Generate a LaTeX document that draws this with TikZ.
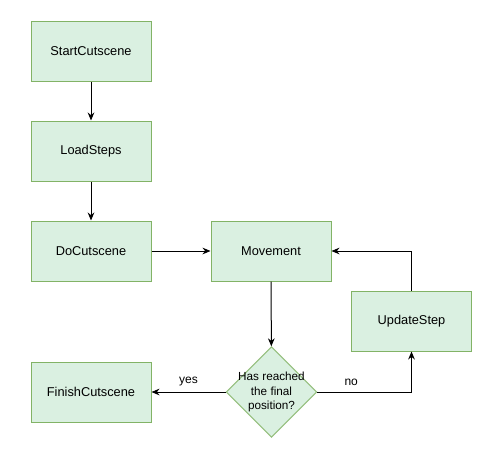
\documentclass[tikz,border=0pt]{standalone}
\usepackage{fontspec}
\setmainfont{Liberation Sans}
\definecolor{stepfill}{RGB}{218,240,225}
\definecolor{stepline}{RGB}{130,179,102}
\usetikzlibrary{shapes.geometric,arrows.meta,positioning,calc}

\begin{document}
\begin{tikzpicture}[x=0.75pt, y=-0.75pt, every node/.style={font=\fontsize{9}{11}\selectfont},
    stepbox/.style={draw=stepline, fill=stepfill, line width=0.75pt, minimum width=90pt, minimum height=45pt, inner sep=0pt, font=\fontsize{9.6}{11}\selectfont},
    decision/.style={draw=stepline!85, fill=stepfill, line width=0.75pt, diamond, minimum width=68pt, minimum height=68pt, inner sep=0pt},
    arr/.style={-{Stealth[length=6pt, width=5pt]}, line width=0.75pt}]
    \useasboundingbox (0,0) rectangle (478,472);

    % Left column
    \node[stepbox] (start) at (91,51) {StartCutscene};
    \node[stepbox] (load) at (91,151) {LoadSteps};
    \node[stepbox] (do) at (91,251) {DoCutscene};
    \node[stepbox] (finish) at (91,392) {FinishCutscene};

    % Loop
    \node[stepbox] (movement) at (271,251) {Movement};
    \node[stepbox] (update) at (411.5,321) {UpdateStep};
    \node[decision] (reached) at (271.5,392) {};
    \node[font=\fontsize{8.8}{11}\selectfont, align=center] at (reached) {Has reached\\the final\\position?};

    % Arrows
    \draw[arr] (start) -- (load);
    \draw[arr] (load) -- (do);
    \draw[arr] (do) -- (movement);
    \draw[arr] (movement) -- (reached);
    \draw[arr] (reached) -- node[above=1pt] {yes} (finish);
    \draw[arr] (reached.east) -| node[pos=0.18, above=1pt] {no} (update.south);
    \draw[arr] (update.north) |- (movement.east);
\end{tikzpicture}
\end{document}
